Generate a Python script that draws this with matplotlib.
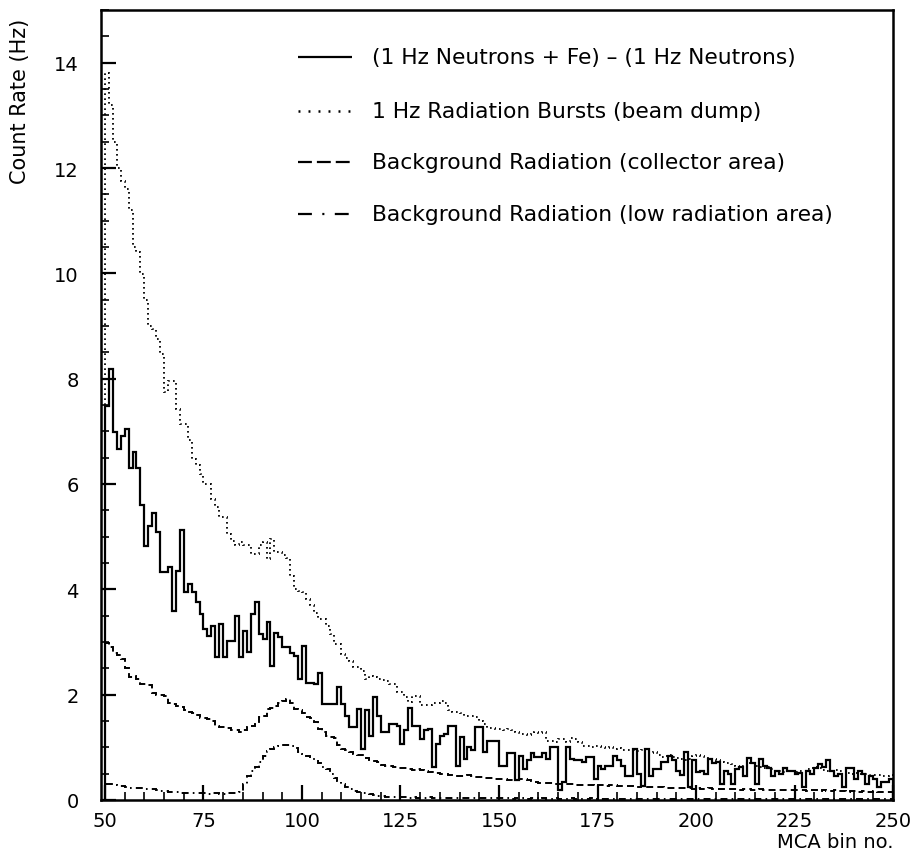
import numpy as np
import matplotlib
matplotlib.use("Agg")
import matplotlib.pyplot as plt

plt.rcParams['font.family'] = ['DejaVu Sans']
plt.rcParams['lines.scale_dashes'] = False

# bin edges (MCA bins 50..250)
bin_start = 50
bin_stop = 250

# (1 Hz Neutrons + Fe) - (1 Hz Neutrons)
fe_diff = [
    7.48, 8.18, 6.98, 6.67, 6.91, 7.04, 6.3, 6.6, 6.3, 5.6,
    4.83, 5.2, 5.45, 5.09, 4.32, 4.32, 4.42, 3.59, 4.35, 5.12,
    3.94, 4.1, 3.94, 3.75, 3.53, 3.24, 3.12, 3.31, 2.71, 3.34,
    2.71, 3.02, 3.02, 3.5, 2.71, 3.21, 2.81, 3.53, 3.75, 3.15,
    3.05, 3.37, 2.55, 3.18, 3.1, 2.9, 2.9, 2.8, 2.74, 2.3,
    2.93, 2.23, 2.23, 2.2, 2.42, 1.82, 1.82, 1.82, 1.82, 2.14,
    1.82, 1.6, 1.38, 1.38, 1.73, 0.97, 1.7, 1.22, 1.95, 1.6,
    1.29, 1.3, 1.44, 1.44, 1.4, 1.06, 1.32, 1.74, 1.41, 1.41,
    1.16, 1.32, 1.35, 0.62, 1.06, 1.22, 1.25, 1.41, 1.41, 0.65,
    1.19, 0.78, 1.0, 0.94, 1.38, 1.38, 0.91, 1.12, 1.12, 1.12,
    0.65, 0.65, 0.9, 0.9, 0.37, 0.84, 0.59, 0.75, 0.9, 0.81,
    0.81, 0.9, 0.78, 1.0, 1.0, 0.18, 0.34, 1.0, 0.78, 0.75,
    0.75, 0.72, 0.81, 0.81, 0.4, 0.65, 0.59, 0.65, 0.65, 0.84,
    0.75, 0.65, 0.46, 0.46, 0.97, 0.49, 0.27, 0.97, 0.46, 0.59,
    0.59, 0.72, 0.72, 0.84, 0.75, 0.55, 0.47, 0.92, 0.25, 0.75,
    0.53, 0.55, 0.5, 0.78, 0.7, 0.72, 0.3, 0.55, 0.5, 0.3,
    0.58, 0.62, 0.45, 0.8, 0.7, 0.3, 0.78, 0.65, 0.6, 0.45,
    0.55, 0.5, 0.6, 0.55, 0.55, 0.5, 0.52, 0.25, 0.55, 0.5,
    0.6, 0.68, 0.62, 0.75, 0.55, 0.45, 0.5, 0.25, 0.6, 0.6,
    0.4, 0.55, 0.5, 0.3, 0.45, 0.4, 0.25, 0.35, 0.35, 0.4,
]

# 1 Hz Radiation Bursts (beam dump)
bursts = [
    13.8, 13.2, 12.5, 12.0, 11.75, 11.6, 11.2, 10.5, 10.4, 9.98,
    9.5, 9.0, 8.94, 8.75, 8.46, 7.74, 7.95, 7.95, 7.42, 7.13,
    7.13, 6.83, 6.47, 6.37, 6.19, 6.0, 6.0, 5.71, 5.56, 5.37,
    5.37, 5.05, 4.91, 4.85, 4.9, 4.85, 4.85, 4.67, 4.67, 4.85,
    4.9, 4.57, 4.95, 4.7, 4.7, 4.65, 4.6, 4.25, 4.0, 3.97,
    3.95, 3.81, 3.7, 3.55, 3.43, 3.43, 3.3, 3.15, 2.96, 2.96,
    2.77, 2.7, 2.64, 2.52, 2.52, 2.45, 2.3, 2.35, 2.33, 2.3,
    2.28, 2.25, 2.2, 2.2, 2.05, 2.05, 1.95, 1.86, 1.97, 1.97,
    1.8, 1.8, 1.8, 1.85, 1.85, 1.88, 1.85, 1.7, 1.67, 1.67,
    1.65, 1.6, 1.6, 1.6, 1.58, 1.5, 1.45, 1.37, 1.37, 1.35,
    1.35, 1.33, 1.35, 1.33, 1.3, 1.25, 1.25, 1.23, 1.25, 1.3,
    1.28, 1.3, 1.12, 1.12, 1.1, 1.15, 1.15, 1.1, 1.18, 1.15,
    1.1, 1.02, 1.02, 1.0, 1.02, 1.02, 1.0, 0.98, 1.0, 0.97,
    0.98, 0.95, 0.95, 0.95, 0.95, 0.93, 0.95, 0.92, 0.9, 0.92,
    0.85, 0.81, 0.83, 0.85, 0.82, 0.8, 0.78, 0.76, 0.78, 0.83,
    0.85, 0.83, 0.8, 0.78, 0.78, 0.76, 0.72, 0.7, 0.7, 0.68,
    0.65, 0.62, 0.65, 0.7, 0.7, 0.65, 0.62, 0.6, 0.62, 0.58,
    0.55, 0.55, 0.53, 0.55, 0.55, 0.53, 0.55, 0.55, 0.58, 0.6,
    0.62, 0.6, 0.57, 0.55, 0.55, 0.57, 0.55, 0.55, 0.52, 0.5,
    0.52, 0.5, 0.5, 0.5, 0.48, 0.47, 0.47, 0.45, 0.45, 0.47,
]

# Background Radiation (collector area)
bg_collector = [
    2.99, 2.9, 2.8, 2.75, 2.68, 2.5, 2.33, 2.35, 2.3, 2.2,
    2.2, 2.18, 2.03, 2.0, 2.0, 1.98, 1.85, 1.82, 1.78, 1.76,
    1.7, 1.67, 1.66, 1.62, 1.55, 1.55, 1.53, 1.5, 1.4, 1.38,
    1.38, 1.36, 1.33, 1.32, 1.3, 1.32, 1.38, 1.4, 1.45, 1.57,
    1.6, 1.72, 1.75, 1.78, 1.85, 1.88, 1.92, 1.85, 1.72, 1.7,
    1.65, 1.58, 1.55, 1.48, 1.35, 1.3, 1.22, 1.2, 1.18, 1.05,
    0.97, 0.95, 0.92, 0.88, 0.86, 0.85, 0.8, 0.76, 0.74, 0.72,
    0.67, 0.65, 0.64, 0.62, 0.61, 0.6, 0.6, 0.58, 0.57, 0.58,
    0.56, 0.55, 0.53, 0.53, 0.51, 0.5, 0.5, 0.48, 0.47, 0.46,
    0.46, 0.45, 0.47, 0.46, 0.44, 0.43, 0.42, 0.42, 0.41, 0.4,
    0.4, 0.39, 0.38, 0.38, 0.37, 0.39, 0.4, 0.38, 0.36, 0.34,
    0.33, 0.33, 0.32, 0.32, 0.31, 0.31, 0.3, 0.3, 0.3, 0.29,
    0.29, 0.28, 0.28, 0.28, 0.27, 0.28, 0.28, 0.27, 0.29, 0.28,
    0.27, 0.26, 0.26, 0.26, 0.25, 0.25, 0.26, 0.25, 0.25, 0.24,
    0.25, 0.24, 0.23, 0.23, 0.22, 0.22, 0.23, 0.22, 0.22, 0.21,
    0.22, 0.21, 0.21, 0.22, 0.2, 0.21, 0.2, 0.2, 0.21, 0.2,
    0.2, 0.19, 0.2, 0.2, 0.19, 0.19, 0.2, 0.19, 0.18, 0.19,
    0.19, 0.18, 0.19, 0.18, 0.18, 0.19, 0.18, 0.18, 0.17, 0.18,
    0.18, 0.17, 0.18, 0.17, 0.17, 0.18, 0.17, 0.17, 0.16, 0.17,
    0.17, 0.16, 0.17, 0.16, 0.16, 0.17, 0.16, 0.16, 0.15, 0.16,
]

# Background Radiation (low radiation area)
bg_low = [
    0.3, 0.3, 0.28, 0.26, 0.26, 0.25, 0.23, 0.23, 0.22, 0.23,
    0.2, 0.2, 0.2, 0.19, 0.17, 0.17, 0.16, 0.16, 0.15, 0.14,
    0.14, 0.14, 0.13, 0.14, 0.13, 0.13, 0.12, 0.13, 0.13, 0.12,
    0.12, 0.13, 0.13, 0.14, 0.15, 0.3, 0.45, 0.55, 0.62, 0.72,
    0.84, 0.93, 0.97, 1.0, 1.02, 1.05, 1.05, 1.02, 0.98, 0.92,
    0.88, 0.84, 0.8, 0.76, 0.7, 0.62, 0.58, 0.5, 0.42, 0.36,
    0.3, 0.24, 0.2, 0.17, 0.15, 0.14, 0.13, 0.12, 0.1, 0.08,
    0.07, 0.06, 0.06, 0.05, 0.05, 0.05, 0.05, 0.04, 0.05, 0.04,
    0.04, 0.04, 0.05, 0.04, 0.04, 0.04, 0.03, 0.04, 0.04, 0.03,
    0.04, 0.03, 0.03, 0.04, 0.03, 0.03, 0.03, 0.04, 0.03, 0.03,
    0.03, 0.03, 0.03, 0.02, 0.03, 0.03, 0.03, 0.02, 0.03, 0.03,
    0.02, 0.03, 0.02, 0.02, 0.03, 0.02, 0.02, 0.02, 0.03, 0.02,
    0.02, 0.02, 0.02, 0.03, 0.02, 0.02, 0.02, 0.02, 0.02, 0.02,
    0.02, 0.02, 0.01, 0.02, 0.02, 0.02, 0.02, 0.02, 0.01, 0.02,
    0.02, 0.02, 0.02, 0.01, 0.02, 0.02, 0.02, 0.01, 0.02, 0.02,
    0.01, 0.02, 0.02, 0.02, 0.01, 0.02, 0.02, 0.01, 0.02, 0.02,
    0.02, 0.01, 0.02, 0.02, 0.01, 0.02, 0.01, 0.02, 0.02, 0.01,
    0.02, 0.02, 0.01, 0.02, 0.01, 0.02, 0.02, 0.01, 0.02, 0.01,
    0.01, 0.02, 0.01, 0.02, 0.01, 0.01, 0.02, 0.01, 0.01, 0.02,
    0.01, 0.01, 0.02, 0.01, 0.01, 0.01, 0.02, 0.01, 0.01, 0.01,
]

labels = [
    "(1 Hz Neutrons + Fe) \u2013 (1 Hz Neutrons)",
    "1 Hz Radiation Bursts (beam dump)",
    "Background Radiation (collector area)",
    "Background Radiation (low radiation area)",
]

x_ticks = [50, 75, 100, 125, 150, 175, 200, 225, 250]
y_ticks = [0, 2, 4, 6, 8, 10, 12, 14]

edges = np.arange(bin_start, bin_stop + 1)

fig = plt.figure(figsize=(9.2, 8.62), dpi=100)
ax = fig.add_axes([0.1098, 0.0708, 0.8609, 0.9164])

styles = [
    dict(color='black', lw=1.6, linestyle='-'),
    dict(color='black', lw=1.3, linestyle=(0, (1.2, 2.4))),
    dict(color='black', lw=1.4, linestyle=(0, (5.0, 3.0))),
    dict(color='black', lw=1.4, linestyle=(0, (5.0, 3.0, 1.2, 3.0))),
]
series = [fe_diff, bursts, bg_collector, bg_low]
for vals, st in zip(series, styles):
    ax.stairs(vals, edges, baseline=0, fill=False, **st)

ax.set_xlim(49, 250)
ax.set_ylim(0, 15)
ax.set_xticks(x_ticks)
ax.set_yticks(y_ticks)
ax.set_xticks(np.arange(50, 251, 5), minor=True)
ax.set_yticks(np.arange(0, 15.01, 0.5), minor=True)
ax.tick_params(axis='both', which='major', direction='in', length=11, width=1.6,
               labelsize=14, top=False, right=False)
ax.tick_params(axis='both', which='minor', direction='in', length=6, width=1.2,
               top=False, right=False)
ax.tick_params(axis='y', which='major', pad=16)
ax.tick_params(axis='x', which='major', pad=8)
for sp in ax.spines.values():
    sp.set_linewidth(1.8)

ax.text(-0.102, 0.99, "Count Rate (Hz)", rotation=90, va='top', ha='center',
        fontsize=15, transform=ax.transAxes)
ax.text(1.0, -0.052, "MCA bin no.", ha='right', va='center', fontsize=14,
        transform=ax.transAxes)

# legend drawn manually
leg_rows = [0.940, 0.8725, 0.807, 0.742]
leg_styles = [
    dict(color='black', lw=1.6, linestyle='-'),
    dict(color='black', lw=1.8, linestyle=(0, (1.4, 5.8))),
    dict(color='black', lw=1.6, linestyle=(0, (10.0, 3.6))),
    dict(color='black', lw=1.6, linestyle=(0, (10.0, 7.5, 1.5, 7.5))),
]
for yr, lab, st in zip(leg_rows, labels, leg_styles):
    ax.plot([0.249, 0.317], [yr, yr], transform=ax.transAxes,
            solid_capstyle='butt', dash_capstyle='butt', **st)
    ax.text(0.342, yr, lab, transform=ax.transAxes, va='center', ha='left',
            fontsize=15.7)

fig.savefig("out.png", dpi=100)
